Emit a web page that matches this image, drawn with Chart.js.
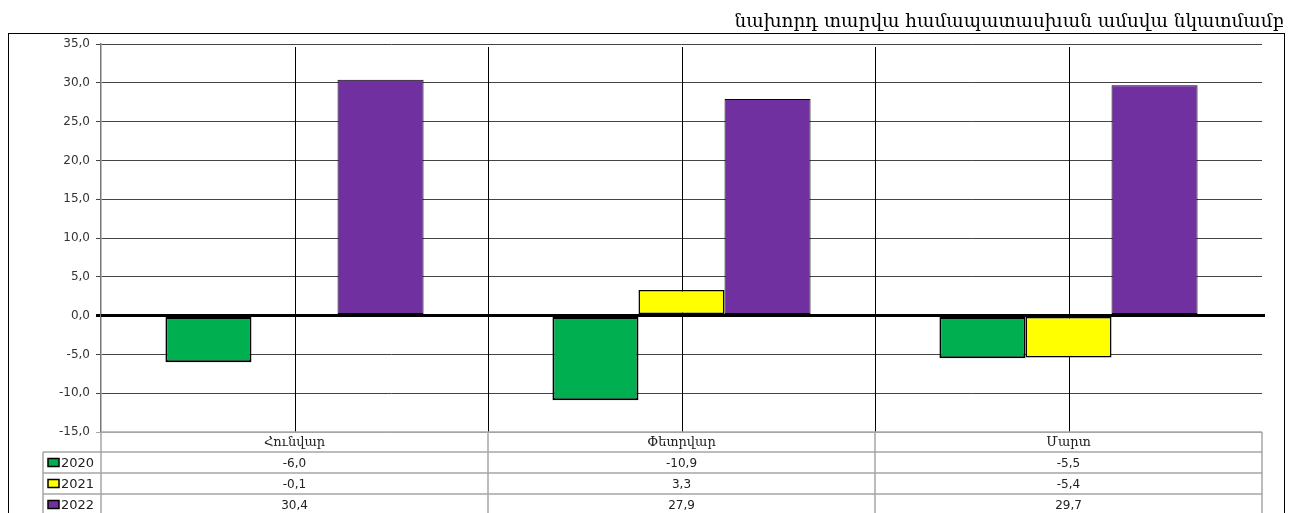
<!DOCTYPE html>
<html>
<head>
<meta charset="utf-8">
<script src="https://cdn.jsdelivr.net/npm/chart.js@4.4.1/dist/chart.umd.min.js"></script>
<style>
  html, body { margin: 0; padding: 0; background: #fff; }
  #wrap { width: 1299px; height: 513px; position: relative; }
</style>
</head>
<body>
<div id="wrap"><canvas id="chart" width="1299" height="513"></canvas></div>
<script>
const title = 'նախորդ տարվա համապատասխան ամսվա նկատմամբ';
const categories = ['Հունվար', 'Փետրվար', 'Մարտ'];
const years = ['2020', '2021', '2022'];
const values2020 = [-6.0, -10.9, -5.5];
const values2021 = [-0.1, 3.3, -5.4];
const values2022 = [30.4, 27.9, 29.7];
const yMin = -15;
const yMax = 35;
const yStep = 5;

const colors = ['#00b050', '#ffff00', '#7030a0'];
const borders = [2, 1.5, 1];
const series = [values2020, values2021, values2022];

function fmt(v) {
  return v.toFixed(1).replace('.', ',');
}

// frame, title, vertical lines and the data table under the plot
const tablePlugin = {
  id: 'tablePlugin',
  beforeDatasetsDraw(chart) {
    const { ctx, chartArea: a, scales: { x } } = chart;
    ctx.save();
    ctx.strokeStyle = '#000';
    ctx.lineWidth = 1;
    for (let i = 0; i < categories.length; i++) {
      const cx = Math.round(x.getPixelForValue(i)) + 0.5;
      ctx.beginPath();
      ctx.moveTo(cx, a.top + 3);
      ctx.lineTo(cx, a.bottom);
      ctx.stroke();
      if (i < categories.length - 1) {
        const bx = Math.round((x.getPixelForValue(i) + x.getPixelForValue(i + 1)) / 2) + 0.5;
        ctx.beginPath();
        ctx.moveTo(bx, a.top + 3);
        ctx.lineTo(bx, a.bottom);
        ctx.stroke();
      }
    }
    ctx.restore();
  },
  afterDatasetsDraw(chart) {
    // zero line on top of the bars
    const { ctx, chartArea: a, scales: { y } } = chart;
    const y0 = y.getPixelForValue(0);
    ctx.save();
    ctx.strokeStyle = '#000';
    ctx.lineWidth = 3;
    ctx.beginPath();
    ctx.moveTo(a.left, y0);
    ctx.lineTo(a.right + 3, y0);
    ctx.stroke();
    ctx.restore();
  },
  afterDraw(chart) {
    const { ctx, chartArea: a, scales: { x } } = chart;
    ctx.save();

    // outer frame
    ctx.strokeStyle = '#000';
    ctx.lineWidth = 1;
    ctx.strokeRect(8.5, 33.5, 1276, 600);

    // title
    ctx.fillStyle = '#000';
    ctx.font = '18.4px "DejaVu Serif"';
    ctx.textAlign = 'right';
    ctx.textBaseline = 'alphabetic';
    ctx.fillText(title, 1284, 27);

    // table grid
    const top = a.bottom;
    const headH = 20;
    const rowH = 21;
    const legLeft = 43;
    ctx.strokeStyle = '#a6a6a6';
    ctx.lineWidth = 1.5;
    ctx.beginPath();
    ctx.moveTo(a.left, top);
    ctx.lineTo(a.right, top);
    for (let r = 0; r < 3; r++) {
      const yy = top + headH + r * rowH;
      ctx.moveTo(legLeft, yy);
      ctx.lineTo(a.right, yy);
    }
    ctx.moveTo(legLeft, top + headH);
    ctx.lineTo(legLeft, 520);
    ctx.moveTo(a.left, top);
    ctx.lineTo(a.left, 520);
    for (let i = 0; i < categories.length - 1; i++) {
      const bx = (x.getPixelForValue(i) + x.getPixelForValue(i + 1)) / 2;
      ctx.moveTo(bx, top);
      ctx.lineTo(bx, 520);
    }
    ctx.moveTo(a.right, top);
    ctx.lineTo(a.right, 520);
    ctx.stroke();

    // header labels
    ctx.textAlign = 'center';
    ctx.textBaseline = 'middle';
    ctx.fillStyle = '#222';
    ctx.font = '13px "DejaVu Serif"';
    categories.forEach((c, i) => {
      ctx.fillText(c, x.getPixelForValue(i), top + headH / 2 + 1);
    });

    // rows
    series.forEach((vals, r) => {
      const cy = top + headH + r * rowH + rowH / 2;
      ctx.fillStyle = colors[r];
      ctx.fillRect(48, cy - 4, 11, 8);
      ctx.strokeStyle = '#000';
      ctx.lineWidth = 1.5;
      ctx.strokeRect(48, cy - 4, 11, 8);
      ctx.fillStyle = '#222';
      ctx.font = '13px "DejaVu Sans"';
      ctx.textAlign = 'left';
      ctx.fillText(years[r], 61, cy + 1);
      ctx.textAlign = 'center';
      ctx.font = '12px "DejaVu Sans"';
      vals.forEach((v, i) => {
        ctx.fillText(fmt(v), x.getPixelForValue(i), cy + 1);
      });
    });
    ctx.restore();
  }
};

new Chart(document.getElementById('chart'), {
  type: 'bar',
  data: {
    labels: categories,
    datasets: years.map((yr, k) => ({
      label: yr,
      data: series[k],
      backgroundColor: colors[k],
      borderColor: '#000',
      borderWidth: borders[k],
      borderSkipped: false,
      barPercentage: 1,
      categoryPercentage: 0.667
    }))
  },
  options: {
    responsive: false,
    animation: false,
    layout: { padding: { left: 0, right: 37, top: 44, bottom: 81 } },
    plugins: {
      legend: { display: false },
      tooltip: { enabled: false }
    },
    scales: {
      x: {
        display: false,
        grid: { display: false }
      },
      y: {
        min: yMin,
        max: yMax,
        afterFit(s) { s.width = 101; },
        ticks: {
          stepSize: yStep,
          padding: 6,
          color: '#333',
          font: { family: 'DejaVu Sans', size: 12 },
          callback: v => fmt(v)
        },
        border: { display: true, color: '#777', width: 1.5 },
        grid: {
          drawTicks: true,
          tickLength: 5,
          color: ctx => ctx.tick && ctx.tick.value === 0 ? '#000' : (ctx.tick && ctx.tick.value === yMin ? '#a6a6a6' : '#444'),
          lineWidth: ctx => ctx.tick && ctx.tick.value === 0 ? 3 : 1
        }
      }
    }
  },
  plugins: [tablePlugin]
});
</script>
</body>
</html>
